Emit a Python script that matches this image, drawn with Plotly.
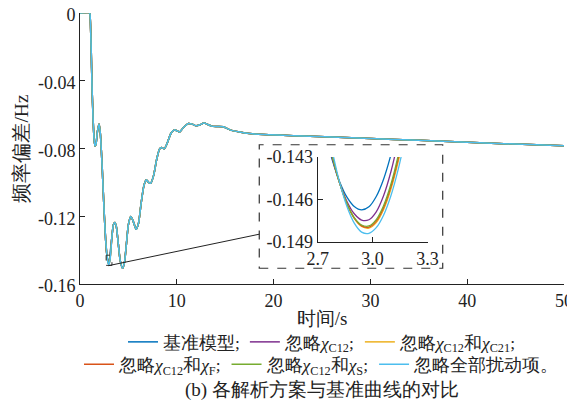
import plotly.graph_objects as go

# ---------------- data ----------------
series_names = [
    "基准模型;",
    "忽略<i>χ</i><sub>C12</sub>;",
    "忽略<i>χ</i><sub>C12</sub>和<i>χ</i><sub>C21</sub>;",
    "忽略<i>χ</i><sub>C12</sub>和<i>χ</i><sub>F</sub>;",
    "忽略<i>χ</i><sub>C12</sub>和<i>χ</i><sub>S</sub>;",
    "忽略全部扰动项。",
]
series_colors = ["#0072BD", "#7E2F8E", "#EDB120", "#D95319", "#77AC30", "#4DBEEE"]

# shared main curve (all series overlap at full scale), before and after the zoomed dip
t_before = [0, 1.0, 1.05, 1.15, 1.25, 1.35, 1.45, 1.55, 1.65, 1.8, 1.97, 2.1, 2.3, 2.5, 2.65]
y_before = [0, 0, -0.002, -0.02, -0.045, -0.062, -0.074, -0.0785, -0.0775, -0.07, -0.0655,
            -0.071, -0.092, -0.118, -0.134]
t_after = [3.3, 3.45, 3.6, 3.75, 3.95, 4.15, 4.4, 4.6, 4.8, 5.0, 5.25, 5.5, 5.8, 6.05, 6.3,
           6.6, 6.85, 7.05, 7.3, 7.6, 7.9, 8.2, 8.4, 8.7, 9.0, 9.4, 9.75, 10.0, 10.3, 10.7,
           11.2, 11.6, 12.0, 12.4, 12.8, 13.2, 13.6, 14.2, 14.8, 15.5, 16.5, 17.5, 19, 21,
           23, 26, 30, 35, 40, 45, 50]
y_after = [-0.132, -0.125, -0.1237, -0.126, -0.136, -0.146, -0.1507, -0.147, -0.136, -0.125,
           -0.1202, -0.123, -0.1277, -0.124, -0.113, -0.102, -0.0985, -0.0998, -0.1005,
           -0.096, -0.087, -0.0805, -0.0794, -0.0802, -0.077, -0.071, -0.069, -0.0695,
           -0.0702, -0.0675, -0.0652, -0.0656, -0.0666, -0.066, -0.065, -0.0658, -0.0668,
           -0.067, -0.0672, -0.069, -0.0703, -0.0712, -0.0718, -0.0722, -0.0726, -0.0732,
           -0.0741, -0.0752, -0.0763, -0.0774, -0.0784]

# zoomed dip around t = 3 s, one array per series
t_dip = [2.74, 2.78, 2.82, 2.86, 2.90, 2.94, 2.98, 3.02, 3.06, 3.10, 3.14, 3.18]
y_dip_base = [-0.14127, -0.14322, -0.14475, -0.14584, -0.14650, -0.14674, -0.14652,
              -0.14579, -0.14457, -0.14285, -0.14064, -0.1380]
y_dip_c12 = [-0.14092, -0.14310, -0.14484, -0.14614, -0.14701, -0.14745, -0.14743,
             -0.14687, -0.14574, -0.14405, -0.14180, -0.1390]
y_dip_c21 = [-0.14050, -0.14289, -0.14483, -0.14631, -0.14734, -0.14791, -0.14802,
             -0.14763, -0.14672, -0.14529, -0.14334, -0.14087]
y_dip_f = [-0.14055, -0.14292, -0.14484, -0.14630, -0.14731, -0.14786, -0.14795,
           -0.14753, -0.14658, -0.14511, -0.14312, -0.14060]
y_dip_s = [-0.14059, -0.14295, -0.14485, -0.14629, -0.14728, -0.14780, -0.14787,
           -0.14742, -0.14644, -0.14493, -0.14289, -0.14032]
y_dip_all = [-0.13980, -0.14257, -0.14480, -0.14650, -0.14767, -0.14830, -0.14839,
             -0.14799, -0.14711, -0.14574, -0.14388, -0.14154]
y_dips = [y_dip_base, y_dip_c12, y_dip_c21, y_dip_f, y_dip_s, y_dip_all]

main_yticks = [0, -0.04, -0.08, -0.12, -0.16]
main_yticklabels = ["0", "-0.04", "-0.08", "-0.12", "-0.16"]
main_xticks = [0, 10, 20, 30, 40, 50]
inset_xticks = [2.7, 3.0, 3.3]
inset_xticklabels = ["2.7", "3.0", "3.3"]
inset_yticks = [-0.143, -0.146, -0.149]
inset_yticklabels = ["-0.143", "-0.146", "-0.149"]

# ---------------- figure ----------------
FONT = "Liberation Serif"
fig = go.Figure()

for i, (name, col, yd) in enumerate(zip(series_names, series_colors, y_dips)):
    fig.add_trace(go.Scatter(
        x=t_before + t_dip + t_after, y=y_before + yd + y_after,
        mode="lines", line=dict(color=col, width=1.5, shape="spline", smoothing=0.6),
        name=name, legend="legend" if i < 3 else "legend2",
        xaxis="x", yaxis="y"))
for name, col, yd in zip(series_names, series_colors, y_dips):
    fig.add_trace(go.Scatter(
        x=t_dip, y=yd, mode="lines",
        line=dict(color=col, width=1.3, shape="spline"),
        showlegend=False, xaxis="x2", yaxis="y2"))

axis_common = dict(showline=True, linecolor="#222", linewidth=1, ticks="inside",
                   ticklen=5, tickcolor="#222", showgrid=False, zeroline=False,
                   automargin=False, ticklabeloverflow="allow",
                   tickfont=dict(family=FONT, size=18, color="#222"))

# the page body adds an 8 px offset, so the figure is kept inside the window
fig.update_layout(
    width=567, height=396,
    margin=dict(l=72, r=11, t=5, b=120, autoexpand=False),
    paper_bgcolor="white", plot_bgcolor="white",
    font=dict(family=FONT, size=15, color="#222"),
    xaxis=dict(range=[0, 50], tickvals=main_xticks, domain=[0, 1],
               title=dict(text="时间/s", font=dict(family=FONT, size=19), standoff=2),
               **axis_common),
    yaxis=dict(range=[-0.16, 0], tickvals=main_yticks, ticktext=main_yticklabels,
               domain=[0, 1], ticklabelshift=2,
               title=dict(text="频率偏差/Hz", font=dict(family=FONT, size=19.5), standoff=4),
               **axis_common),
    xaxis2=dict(range=[2.7, 3.3], tickvals=inset_xticks, ticktext=inset_xticklabels,
                domain=[0.491, 0.718], anchor="y2", **axis_common),
    yaxis2=dict(range=[-0.149, -0.143], tickvals=inset_yticks, ticktext=inset_yticklabels,
                domain=[0.155, 0.469], anchor="x2", **axis_common),
    legend=dict(orientation="h", x=0.5, xanchor="center", y=-0.214, yanchor="middle",
                font=dict(family=FONT, size=17.5), itemwidth=30, bgcolor="rgba(0,0,0,0)"),
    legend2=dict(orientation="h", x=0.5, xanchor="center", y=-0.297, yanchor="middle",
                 font=dict(family=FONT, size=17.5), itemwidth=30, bgcolor="rgba(0,0,0,0)"),
    showlegend=True,
)

# zoom indicator box, inset frame and connector (main data coordinates)
fig.add_shape(type="rect", xref="x", yref="y", x0=inset_xticks[0], x1=inset_xticks[-1],
              y0=inset_yticks[-1], y1=inset_yticks[0],
              line=dict(color="#333", width=1, dash="dash"))
fig.add_shape(type="rect", xref="x", yref="y", x0=18.52, x1=37.47, y0=-0.1507, y1=-0.0778,
              line=dict(color="#333", width=1.2, dash="dash"))
fig.add_shape(type="line", xref="x", yref="y", x0=2.92, y0=-0.1492, x1=18.52, y1=-0.1306,
              line=dict(color="#222", width=1))

fig.add_annotation(text="(b) 各解析方案与基准曲线的对比", xref="paper", yref="paper",
                   x=0.5, y=-0.392, xanchor="center", yanchor="middle", showarrow=False,
                   font=dict(family=FONT, size=19, color="#222"))

fig.write_html("out.html")
